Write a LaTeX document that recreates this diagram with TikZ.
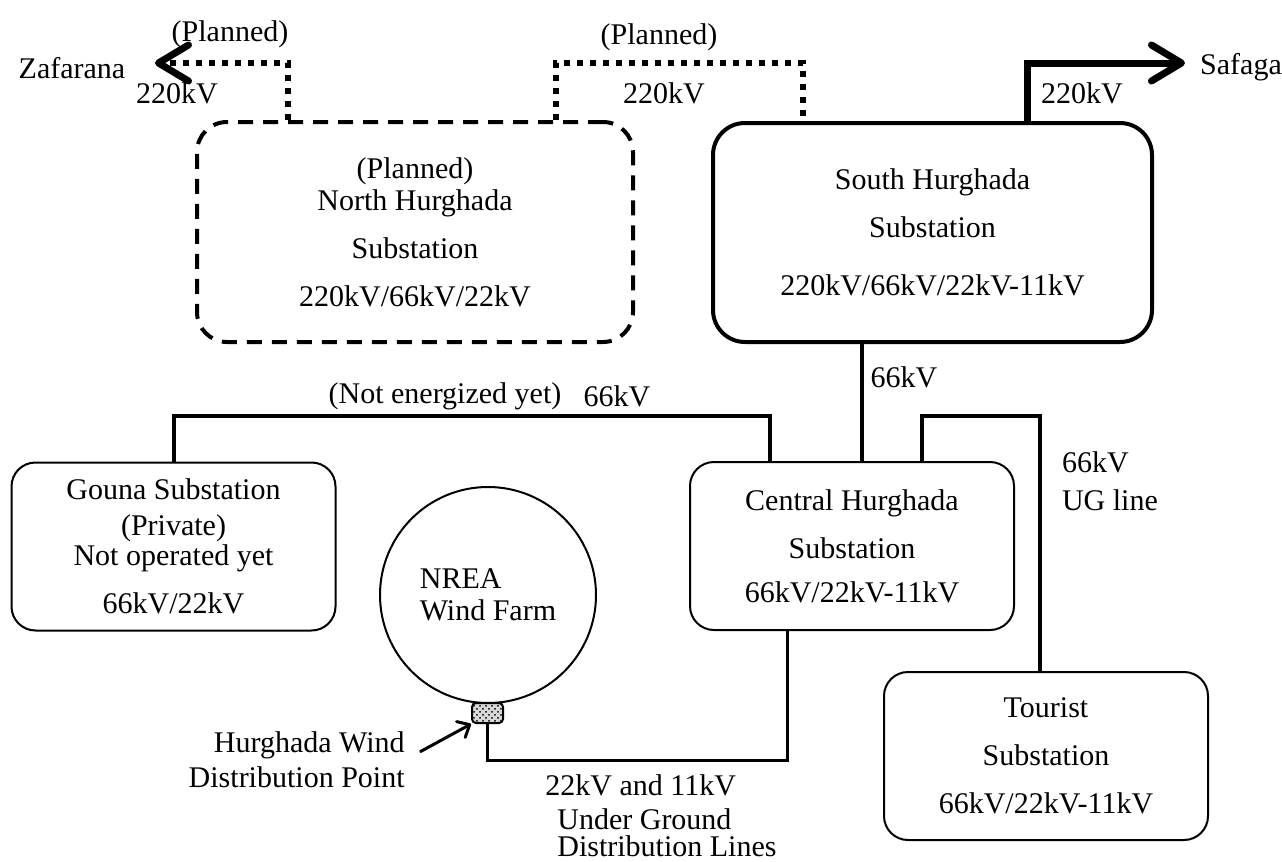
\documentclass[tikz,border=0pt]{standalone}
\usepackage{fontspec}
\setmainfont{Liberation Serif}
\usetikzlibrary{arrows.meta,patterns}

\begin{document}
\begin{tikzpicture}[x=0.5pt, y=-0.5pt,
  every node/.style={font=\fontsize{15}{16}\selectfont},
  station/.style={draw, rounded corners=12pt, line width=1pt, align=center,
    minimum width=162pt, minimum height=84pt, inner sep=0pt},
  feeder/.style={line width=2pt},
  planned/.style={line width=3pt, dash pattern=on 3pt off 3.5pt},
  bigtip/.style={-{Straight Barb[length=15pt, width=18pt, line width=3.5pt, round]}}]
  \useasboundingbox (0,0) rectangle (1282,862);

  %% substations
  \node[station, line width=2pt, dash pattern=on 7.5pt off 5pt, rounded corners=15pt,
    minimum width=218pt, minimum height=110pt] (north) at (415,232)
    {(Planned)\\North Hurghada\\[8pt]Substation\\[8pt]220kV/66kV/22kV};
  \node[station, line width=2pt, rounded corners=16pt,
    minimum width=219.5pt, minimum height=109.5pt] (south) at (932.5,232.5)
    {South Hurghada\\[8pt]Substation\\[13pt]220kV/66kV/22kV-11kV};
  \node[station] (central) at (852,546)
    {Central Hurghada\\[8pt]Substation\\[6pt]66kV/22kV-11kV};
  \node[station] (gouna) at (173.5,546.5)
    {Gouna Substation\\[2pt](Private)\\[-1pt]Not operated yet\\[8pt]66kV/22kV};
  \node[station] (tourist) at (1046,756)
    {Tourist\\[8pt]Substation\\[8pt]66kV/22kV-11kV};

  %% wind farm
  \node[draw, circle, line width=1pt, minimum size=108pt, inner sep=0pt, align=left]
    (nrea) at (488,595) {NREA\\Wind Farm};
  \node[draw, rounded corners=2pt, line width=1pt, minimum width=15.5pt, minimum height=10pt,
    inner sep=0pt, preaction={fill=gray!30}, pattern=crosshatch dots] (dp) at (487.5,713) {};

  %% 220kV
  \coordinate (zafend) at (155,63);
  \coordinate (safend) at (1185,63);
  \draw[planned, bigtip] (north.north -| 288,0) |- (zafend);
  \draw[planned] (north.north -| 556,0) |- (803,63) -- (south.north -| 803,0);
  \draw[line width=3.5pt, bigtip] (south.north -| 1027,0) |- (safend);
  \node (zaf) at (72,68) {Zafarana};
  \node (saf) at (1241,67) {Safaga};
  \node (zafplan) at (230,34) {(Planned)};
  \node (zafkv) at (177,93) {220kV};
  \node (midplan) at (659,37) {(Planned)};
  \node (midkv) at (664,93) {220kV};
  \node (safkv) at (1082,93) {220kV};

  %% 66kV
  \draw[feeder] (south.south -| 862,0) -- (central.north -| 862,0);
  \node (shkv) at (904,377) {66kV};
  \draw[feeder] (central.north -| 770,0) |- (gouna.north |- 0,416) -- (gouna.north);
  \node (notyet) at (445,396) {(Not energized yet)};
  \node (gounakv) at (617,396) {66kV};
  \draw[feeder] (central.north -| 922,0) |- (1040,416) -- (tourist.north -| 1040,0);
  \node[anchor=west, align=left] (ugkv) at (1055,481) {66kV\\[3pt]UG line};

  %% 22kV and 11kV
  \draw[line width=1.5pt] (central.south -| 787,0) |- (dp.south |- 0,760) -- (dp.south);
  \node[anchor=north west, align=left, inner sep=0pt] (ugtext) at (545,774)
    {22kV and 11kV\\[1pt]\hspace*{6pt}Under Ground\\[-2.5pt]\hspace*{6pt}Distribution Lines};
  \node[anchor=east, align=right, inner sep=0pt] (dplabel) at (405,760)
    {Hurghada Wind\\[1.5pt]Distribution Point};
  \draw[line width=1.5pt, -{Straight Barb[length=5pt, width=9pt, round]}, shorten <=8.5pt]
    (dplabel.east) -- (dp.south west);
\end{tikzpicture}
\end{document}
